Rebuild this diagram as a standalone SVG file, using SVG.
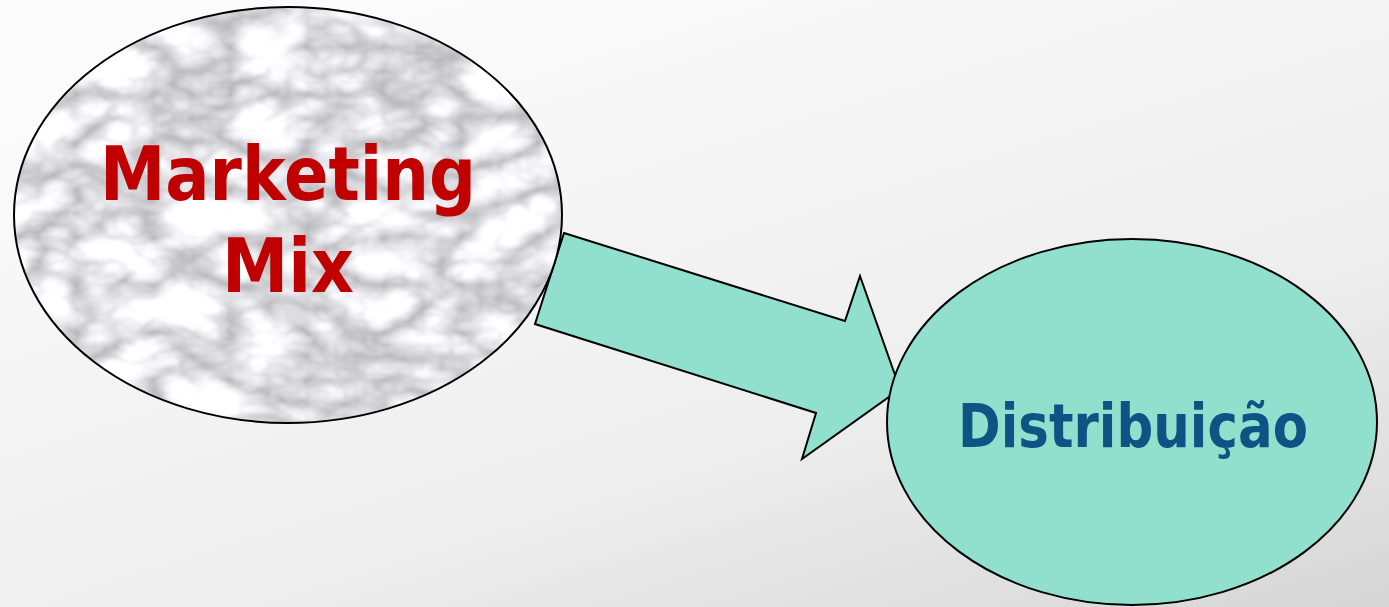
<svg xmlns="http://www.w3.org/2000/svg" width="1389" height="607" viewBox="0 0 1389 607">
<defs>
<linearGradient id="bg" x1="0.3" y1="0" x2="1" y2="1">
<stop offset="0" stop-color="#FBFBFB"/>
<stop offset="0.6" stop-color="#EEEEEE"/>
<stop offset="1" stop-color="#D6D6D6"/>
</linearGradient>
<filter id="marble" x="0" y="0" width="100%" height="100%" color-interpolation-filters="sRGB">
<feTurbulence type="turbulence" baseFrequency="0.013 0.021" numOctaves="4" seed="11" result="t"/>
<feColorMatrix in="t" type="matrix" values="0.6 0 0 0 0.70  0.6 0 0 0 0.70  0.6 0 0 0 0.72  0 0 0 0 1" result="c"/>
<feGaussianBlur in="c" stdDeviation="1"/>
</filter>
<clipPath id="clipL"><ellipse cx="288" cy="215" rx="274" ry="208"/></clipPath>
<style>
.outline{stroke:#000;stroke-width:2;}
.teal{fill:#91E0CE;}
.lbl{font-family:"DejaVu Sans","Liberation Sans",sans-serif;font-weight:bold;text-anchor:middle;}
</style>
</defs>
<rect width="1389" height="607" fill="url(#bg)"/>
<g id="connectors">
<polygon class="teal outline" points="564,233 845,321 860,276 900,389 802,459 816,413 535,324"/>
</g>
<g id="node-marketing-mix">
<rect x="14" y="7" width="548" height="416" filter="url(#marble)" clip-path="url(#clipL)"/>
<ellipse cx="288" cy="215" rx="274" ry="208" fill="none" class="outline"/>
<text class="lbl" x="288" y="200" font-size="75" fill="#C00000" textLength="376" lengthAdjust="spacingAndGlyphs">Marketing</text>
<text class="lbl" x="288" y="292" font-size="75" fill="#C00000" textLength="132" lengthAdjust="spacingAndGlyphs">Mix</text>
</g>
<g id="node-distribuicao">
<ellipse cx="1132" cy="422" rx="245" ry="183" class="teal outline"/>
<text class="lbl" x="1133" y="447" font-size="60" fill="#0D5384" textLength="350" lengthAdjust="spacingAndGlyphs">Distribuição</text>
</g>
</svg>
